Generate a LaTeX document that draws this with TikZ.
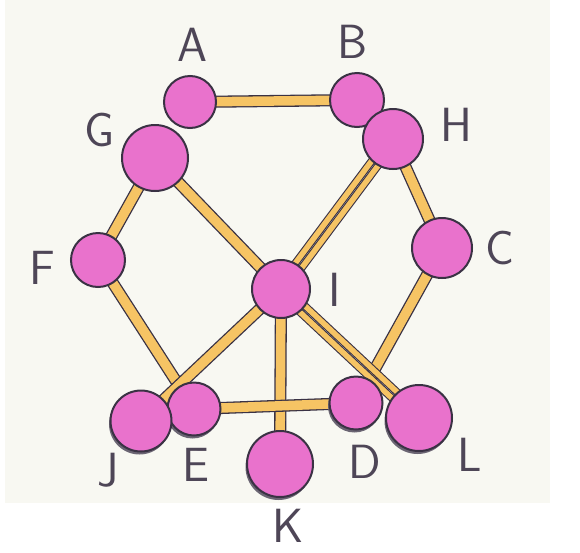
\documentclass[tikz,border=0pt]{standalone}
\usepackage{tikz}
\usetikzlibrary{calc,shadows}
\definecolor{ballpink}{RGB}{233,114,204}
\definecolor{stickorange}{RGB}{246,196,100}
\definecolor{inkline}{RGB}{58,50,68}
\definecolor{paper}{RGB}{248,248,242}
\pgfdeclarelayer{paperlayer}
\pgfdeclarelayer{sticklayer}
\pgfsetlayers{paperlayer,sticklayer,main}

\begin{document}
\begin{tikzpicture}[x=1pt,y=-1pt,line cap=round,
  ball/.style={circle,fill=ballpink,draw=inkline,line width=2pt,inner sep=0pt,minimum size=#1},
  lowball/.style={ball=#1,drop shadow={shadow xshift=-1.5pt,shadow yshift=-3pt,fill=inkline!75,opacity=1}},
  stick/.style={draw=inkline,line width=1.3pt,double=stickorange,double distance=9.5pt},
  thinstick/.style={draw=inkline,line width=1.1pt,double=stickorange,double distance=5.5pt},
  lbl/.style={font=\fontsize{48}{48}\sffamily,text=inkline!90}]
  \useasboundingbox (0,0) rectangle (580,552);
  \begin{pgfonlayer}{paperlayer}
    \fill[paper] (5,0) rectangle (550,503);
  \end{pgfonlayer}
  % balls at the back first
  \node[ball=52pt] (A) at (190,102) {};
  \node[ball=54pt] (B) at (357,100) {};
  \node[lowball=53pt] (E) at (194,409) {};
  \node[lowball=53pt] (D) at (356,403) {};
  \node[ball=66pt] (G) at (155,158) {};
  \node[ball=60pt] (H) at (393,139) {};
  \node[ball=54pt] (F) at (98,260) {};
  \node[ball=60pt] (C) at (442,248) {};
  \node[ball=58pt] (I) at (281,289) {};
  \node[lowball=61pt] (J) at (141,421) {};
  \node[lowball=66pt] (K) at (280,464) {};
  \node[lowball=66pt] (L) at (419,418) {};
  % labels
  \node[lbl] (labA) at (192,45) {A};
  \node[lbl] (labB) at (353,42) {B};
  \node[lbl] (labG) at (100,130) {G};
  \node[lbl] (labH) at (456,125) {H};
  \node[lbl] (labF) at (42,268) {F};
  \node[lbl] (labC) at (500,248) {C};
  \node[lbl] (labI) at (335,290) {I};
  \node[lbl] (labJ) at (108,470) {J};
  \node[lbl] (labE) at (196,465) {E};
  \node[lbl] (labK) at (288,526) {K};
  \node[lbl] (labD) at (365,462) {D};
  \node[lbl] (labL) at (470,455) {L};
  % sticks under the balls
  \begin{pgfonlayer}{sticklayer}
    \foreach \u/\v in {A/B,G/F,G/I,H/C,F/E,I/J,I/K,E/D,C/D}
      \draw[stick] (\u.center) -- (\v.center);
    \foreach \u/\v in {H/I,I/L}
      \foreach \s in {-4,4}
        \draw[thinstick] ($(\u.center)!\s pt!90:(\v.center)$) -- ($(\v.center)!\s pt!-90:(\u.center)$);
  \end{pgfonlayer}
\end{tikzpicture}
\end{document}
